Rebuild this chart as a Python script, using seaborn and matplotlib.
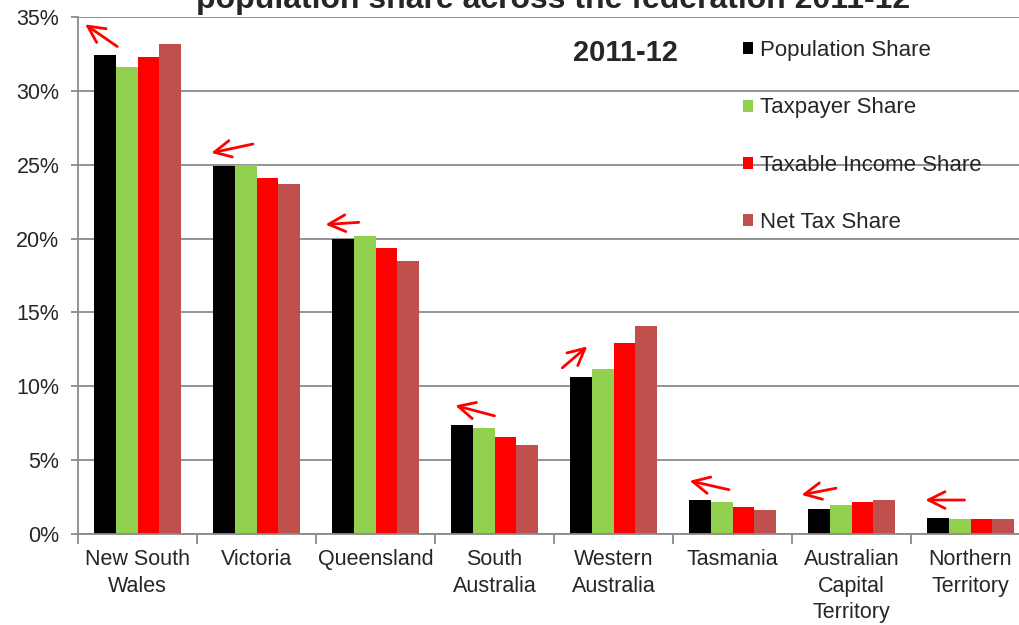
import matplotlib
matplotlib.use("Agg")
import matplotlib.pyplot as plt
from matplotlib.patches import Patch
import pandas as pd
import seaborn as sns

# Shares of each state/territory, 2011-12 (percent)
states = ["New South\nWales", "Victoria", "Queensland", "South\nAustralia",
          "Western\nAustralia", "Tasmania", "Australian\nCapital\nTerritory",
          "Northern\nTerritory"]
population_share = [32.4, 24.9, 20.0, 7.4, 10.6, 2.3, 1.7, 1.05]
taxpayer_share = [31.6, 25.0, 20.2, 7.2, 11.2, 2.2, 1.95, 1.0]
taxable_income_share = [32.3, 24.1, 19.35, 6.6, 12.9, 1.8, 2.2, 1.0]
net_tax_share = [33.2, 23.7, 18.5, 6.0, 14.1, 1.6, 2.3, 1.0]

series_names = ["Population Share", "Taxpayer Share",
                "Taxable Income Share", "Net Tax Share"]
series_colors = ["#000000", "#92D050", "#FF0000", "#C0504D"]
y_ticks = [0, 5, 10, 15, 20, 25, 30, 35]

# Direction-of-change arrows: (tail x, tail y, head x, head y) in data units
arrow_tails_x = [-0.17, 0.97, 1.86, 3.00, 3.57, 4.97, 5.87, 6.95]
arrow_tails_y = [33.0, 26.4, 21.1, 8.0, 11.25, 3.0, 3.1, 2.3]
arrow_heads_x = [-0.44, 0.62, 1.58, 2.67, 3.78, 4.64, 5.58, 6.62]
arrow_heads_y = [34.5, 25.8, 20.95, 8.7, 12.7, 3.6, 2.65, 2.3]

rows = []
for name, vals in zip(series_names, [population_share, taxpayer_share,
                                     taxable_income_share, net_tax_share]):
    for st, v in zip(states, vals):
        rows.append({"state": st, "series": name, "share": v})
df = pd.DataFrame(rows)

sns.set_style("white")
plt.rcParams["font.family"] = ["Liberation Sans", "DejaVu Sans"]

fig = plt.figure(figsize=(10.19, 6.25), dpi=100)
ax = fig.add_axes([78 / 1019, 1 - 534 / 625, (1030 - 78) / 1019, (534 - 17) / 625])

sns.barplot(data=df, x="state", y="share", hue="series", order=states,
            hue_order=series_names, palette=series_colors, width=0.73,
            saturation=1, linewidth=0, legend=False, ax=ax)

grid_color = "#8a8a8a"
ax.set_ylim(0, 35)
ax.set_xlim(-0.5, len(states) - 0.5)
ax.set_yticks(y_ticks)
ax.set_yticklabels([f"{t}%" for t in y_ticks])
ax.yaxis.grid(True, color=grid_color, linewidth=1.3)
ax.set_axisbelow(True)
ax.set_xlabel("")
ax.set_ylabel("")

for side in ["top", "right"]:
    ax.spines[side].set_visible(False)
for side in ["left", "bottom"]:
    ax.spines[side].set_color(grid_color)
    ax.spines[side].set_linewidth(1.3)

ax.tick_params(axis="y", which="major", length=5, width=1.3, color=grid_color,
               labelsize=15.5, pad=8.5, direction="out", left=True)
ax.tick_params(axis="x", which="major", length=0, labelsize=15.5, pad=11)
ax.set_xticks([i - 0.5 for i in range(len(states) + 1)], minor=True)
ax.tick_params(axis="x", which="minor", length=7, width=1.3, color=grid_color,
               direction="out", bottom=True)
for lab in ax.get_xticklabels():
    lab.set_linespacing(1.33)

for tx, ty, hx, hy in zip(arrow_tails_x, arrow_tails_y, arrow_heads_x, arrow_heads_y):
    ax.annotate("", xy=(hx, hy), xytext=(tx, ty),
                arrowprops=dict(arrowstyle="->", color="#FF0000", lw=2.0,
                                mutation_scale=30, shrinkA=0, shrinkB=0),
                annotation_clip=False)

handles = [Patch(facecolor=c, edgecolor="none") for c in series_colors]
fig.legend(handles, series_names, loc="upper left",
           bbox_to_anchor=(743 / 1019, 1 - 40 / 625), frameon=False,
           fontsize=16, handlelength=0.45, handleheight=0.45,
           handletextpad=0.3, labelspacing=1.64, borderpad=0, borderaxespad=0)

fig.text(625 / 1019, 1 - 53 / 625, "2011-12", ha="center", va="center",
         fontsize=21, fontweight="bold")
fig.text(553 / 1019, 1 - 8 / 625,
         "population share across the federation 2011-12",
         ha="center", va="baseline", fontsize=23, fontweight="bold")

fig.savefig("out.png", dpi=100)
